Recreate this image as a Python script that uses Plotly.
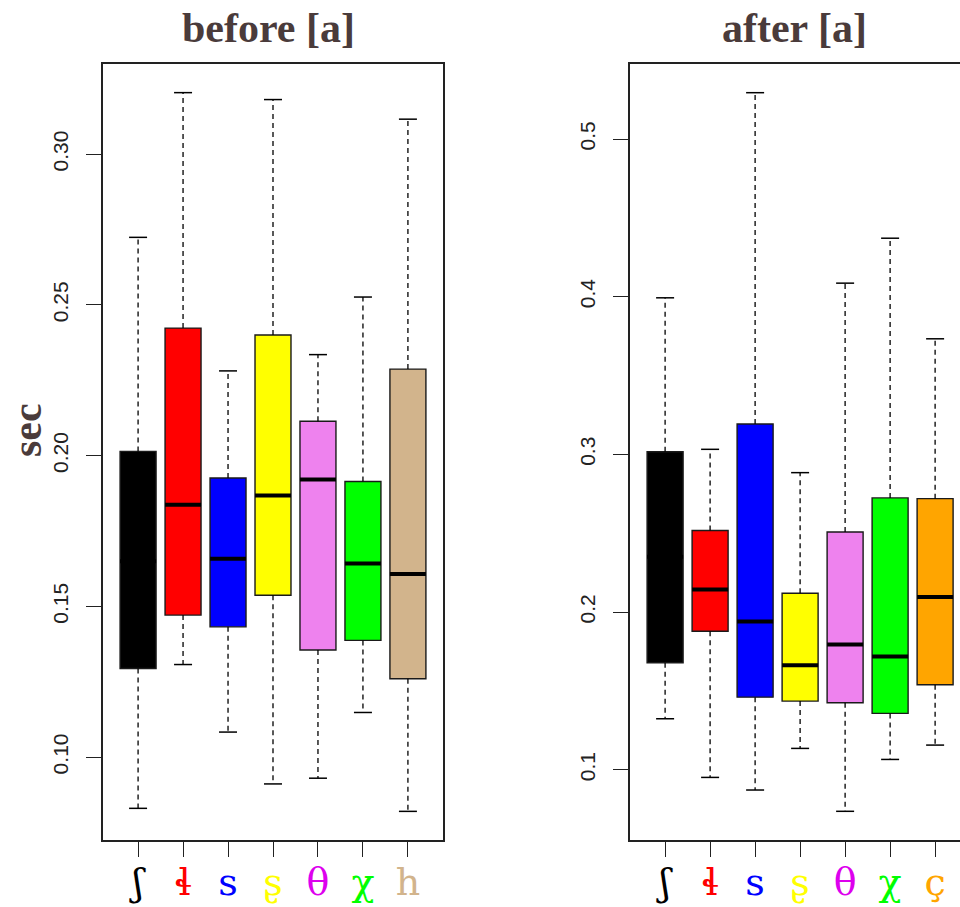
import plotly.graph_objects as go

# ---------------- data ----------------
labels_before = ["ʃ", "ɬ", "s", "ʂ", "θ", "χ", "h"]
labels_after = ["ʃ", "ɬ", "s", "ʂ", "θ", "χ", "ç"]

box_colors_before = ["#000000", "#FF0000", "#0000FF", "#FFFF00", "#EE82EE", "#00FF00", "#D2B48C"]
box_colors_after = ["#000000", "#FF0000", "#0000FF", "#FFFF00", "#EE82EE", "#00FF00", "#FFA500"]
label_colors_before = ["#000000", "#FF0000", "#0000FF", "#FFFF00", "#DD00EE", "#00FF00", "#D2B48C"]
label_colors_after = ["#000000", "#FF0000", "#0000FF", "#FFFF00", "#DD00EE", "#00FF00", "#FFA500"]

before_lower = [0.0830, 0.1307, 0.1083, 0.0911, 0.0930, 0.1148, 0.0820]
before_q1 = [0.1294, 0.1471, 0.1432, 0.1537, 0.1355, 0.1387, 0.1260]
before_median = [0.1650, 0.1837, 0.1658, 0.1868, 0.1921, 0.1642, 0.1607]
before_q3 = [0.2014, 0.2423, 0.1926, 0.2400, 0.2114, 0.1914, 0.2287]
before_upper = [0.2724, 0.3204, 0.2281, 0.3181, 0.2335, 0.2526, 0.3116]

after_lower = [0.1323, 0.0951, 0.0871, 0.1135, 0.0736, 0.1065, 0.1156]
after_q1 = [0.1678, 0.1878, 0.1460, 0.1435, 0.1425, 0.1357, 0.1539]
after_median = [0.2350, 0.2143, 0.1940, 0.1663, 0.1794, 0.1718, 0.2096]
after_q3 = [0.3017, 0.2517, 0.3193, 0.2119, 0.2508, 0.2724, 0.2719]
after_upper = [0.3993, 0.3032, 0.5294, 0.2884, 0.4086, 0.4371, 0.3733]

before_ticks = [0.10, 0.15, 0.20, 0.25, 0.30]
after_ticks = [0.1, 0.2, 0.3, 0.4, 0.5]

titles = ["before [a]", "after [a]"]
y_title = "sec"

# ---------------- figure ----------------
W, H = 960, 907
AX = "#222222"
TXT = "#4a3b3b"
BOXW = 0.8
CAPW = 0.4

fig = go.Figure()


def add_panel(fig, xa, ya, lower, q1, med, q3, upper, colors):
    pos = list(range(1, len(q1) + 1))
    # whiskers (dashed)
    wx, wy = [], []
    for p, lo, a, b, hi in zip(pos, lower, q1, q3, upper):
        wx += [p, p, None, p, p, None]
        wy += [b, hi, None, a, lo, None]
    fig.add_trace(go.Scatter(x=wx, y=wy, mode="lines", xaxis=xa, yaxis=ya,
                             line=dict(color="black", width=1.3, dash="5px,4px"),
                             hoverinfo="skip", showlegend=False))
    # caps
    cx, cy = [], []
    for p, lo, hi in zip(pos, lower, upper):
        cx += [p - CAPW / 2, p + CAPW / 2, None, p - CAPW / 2, p + CAPW / 2, None]
        cy += [hi, hi, None, lo, lo, None]
    fig.add_trace(go.Scatter(x=cx, y=cy, mode="lines", xaxis=xa, yaxis=ya,
                             line=dict(color="black", width=1.5),
                             hoverinfo="skip", showlegend=False))
    # boxes
    fig.add_trace(go.Bar(x=pos, y=[b - a for a, b in zip(q1, q3)], base=q1,
                         width=BOXW, xaxis=xa, yaxis=ya,
                         marker=dict(color=colors, line=dict(color="#1a1a1a", width=1.4)),
                         hoverinfo="skip", showlegend=False))
    # medians
    mx, my = [], []
    for p, m in zip(pos, med):
        mx += [p - BOXW / 2, p + BOXW / 2, None]
        my += [m, m, None]
    fig.add_trace(go.Scatter(x=mx, y=my, mode="lines", xaxis=xa, yaxis=ya,
                             line=dict(color="black", width=4),
                             hoverinfo="skip", showlegend=False))


add_panel(fig, "x", "y", before_lower, before_q1, before_median, before_q3, before_upper,
          box_colors_before)
add_panel(fig, "x2", "y2", after_lower, after_q1, after_median, after_q3, after_upper,
          box_colors_after)


def ticktext(labels, colors):
    return [f"<span style='color:{c}'>{l}</span>" for l, c in zip(labels, colors)]


ydom = [1 - 840 / H, 1 - 64 / H]
tickfont_x = dict(family="DejaVu Serif, Liberation Serif, serif", size=38)
tickfont_y = dict(family="Liberation Sans, Arial, sans-serif", size=21, color="#222222")

common_x = dict(showgrid=False, zeroline=False, showline=True, linecolor=AX, linewidth=1.5,
                ticks="outside", ticklen=15, tickwidth=1.3, tickcolor=AX, automargin=False,
                tickfont=tickfont_x, fixedrange=True, ticklabelstandoff=-7)
common_y = dict(showgrid=False, zeroline=False, showline=True, linecolor=AX, linewidth=1.5,
                ticks="outside", ticklen=15, tickwidth=1.3, tickcolor=AX, automargin=False,
                tickfont=tickfont_y, tickangle=-90, ticklabelstandoff=10, fixedrange=True)

fig.update_layout(
    width=W, height=H,
    margin=dict(l=0, r=0, t=0, b=0),
    paper_bgcolor="white", plot_bgcolor="white",
    showlegend=False,
    xaxis=dict(common_x, domain=[103 / W, 443 / W], range=[0.22, 7.78], mirror=True,
               tickvals=list(range(1, 8)), ticktext=ticktext(labels_before, label_colors_before),
               anchor="y"),
    yaxis=dict(common_y, domain=ydom, range=[0.0725, 0.3299], mirror=True,
               tickvals=before_ticks, tickformat=".2f", anchor="x"),
    xaxis2=dict(common_x, domain=[630 / W, 1.0], range=[0.22, 7.553], mirror=True,
                tickvals=list(range(1, 8)), ticktext=ticktext(labels_after, label_colors_after),
                anchor="y2"),
    yaxis2=dict(common_y, domain=ydom, range=[0.0554, 0.5476], mirror=False,
                tickvals=after_ticks, tickformat=".1f", anchor="x2"),
)

title_font = dict(family="Liberation Serif, DejaVu Serif, serif", size=42, color=TXT)
fig.add_annotation(text=f"<b>{titles[0]}</b>", x=268 / W, y=1 - 28 / H, xref="paper", yref="paper",
                   showarrow=False, font=title_font, xanchor="center", yanchor="middle")
fig.add_annotation(text=f"<b>{titles[1]}</b>", x=794 / W, y=1 - 28 / H, xref="paper", yref="paper",
                   showarrow=False, font=title_font, xanchor="center", yanchor="middle")
fig.add_annotation(text=f"<b>{y_title}</b>", x=27 / W, y=1 - 430 / H, xref="paper", yref="paper",
                   showarrow=False, font=title_font, textangle=-90,
                   xanchor="center", yanchor="middle")

post = (
    "var s='margin:0;padding:0;height:907px;width:960px;overflow:hidden';"
    "document.documentElement.style.cssText=s;"
    "document.body.style.cssText=s;"
    "var g=document.getElementById('{plot_id}');"
    "g.style.display='block';"
    "if(g.parentNode){g.parentNode.style.cssText='margin:0;padding:0;height:907px;overflow:hidden;line-height:0;font-size:0';}"
)
fig.write_html("out.html", config={"displayModeBar": False}, post_script=post)
